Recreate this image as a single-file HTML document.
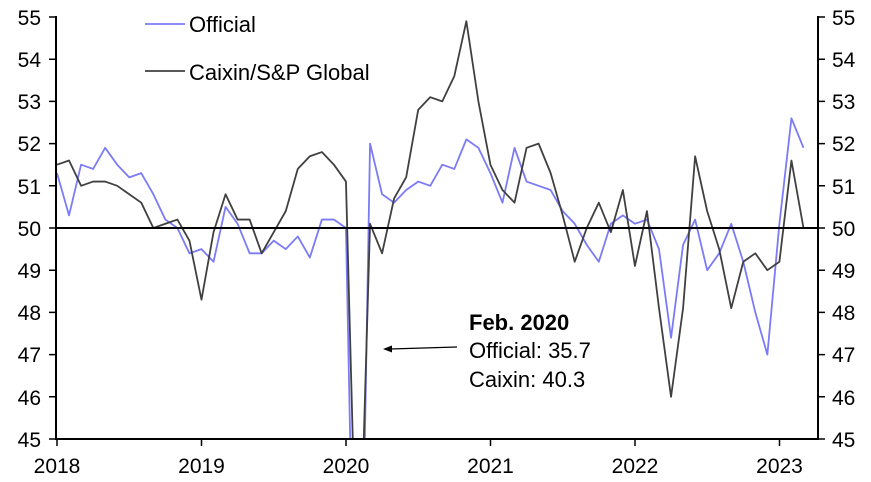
<!DOCTYPE html>
<html><head><meta charset="utf-8"><style>
html,body{margin:0;padding:0;background:#fff;overflow:hidden;width:871px;height:482px}
svg{display:block}
svg text{font-family:"Liberation Sans",Arial,sans-serif;font-size:21px;fill:#000}
</style></head><body>
<svg width="871" height="482" viewBox="0 0 871 482" xmlns="http://www.w3.org/2000/svg">
<defs><clipPath id="c"><rect x="56" y="15" width="763" height="424"/></clipPath></defs>
<g clip-path="url(#c)">
<g transform="translate(57,228) scale(12.04,-42.2)">
<polyline fill="none" stroke="#7b7bf7" stroke-width="1.8" vector-effect="non-scaling-stroke" stroke-linejoin="round" points="0,1.3 1,0.3 2,1.5 3,1.4 4,1.9 5,1.5 6,1.2 7,1.3 8,0.8 9,0.2 10,0 11,-0.6 12,-0.5 13,-0.8 14,0.5 15,0.1 16,-0.6 17,-0.6 18,-0.3 19,-0.5 20,-0.2 21,-0.7 22,0.2 23,0.2 24,0 25,-14.3 26,2 27,0.8 28,0.6 29,0.9 30,1.1 31,1 32,1.5 33,1.4 34,2.1 35,1.9 36,1.3 37,0.6 38,1.9 39,1.1 40,1 41,0.9 42,0.4 43,0.1 44,-0.4 45,-0.8 46,0.1 47,0.3 48,0.1 49,0.2 50,-0.5 51,-2.6 52,-0.4 53,0.2 54,-1 55,-0.6 56,0.1 57,-0.8 58,-2 59,-3 60,0.1 61,2.6 62,1.9"/>
<polyline fill="none" stroke="#404040" stroke-width="1.8" vector-effect="non-scaling-stroke" stroke-linejoin="round" points="0,1.5 1,1.6 2,1 3,1.1 4,1.1 5,1 6,0.8 7,0.6 8,0 9,0.1 10,0.2 11,-0.3 12,-1.7 13,-0.1 14,0.8 15,0.2 16,0.2 17,-0.6 18,-0.1 19,0.4 20,1.4 21,1.7 22,1.8 23,1.5 24,1.1 25,-9.7 26,0.1 27,-0.6 28,0.7 29,1.2 30,2.8 31,3.1 32,3 33,3.6 34,4.9 35,3 36,1.5 37,0.9 38,0.6 39,1.9 40,2 41,1.3 42,0.3 43,-0.8 44,0 45,0.6 46,-0.1 47,0.9 48,-0.9 49,0.4 50,-1.9 51,-4 52,-1.9 53,1.7 54,0.4 55,-0.5 56,-1.9 57,-0.8 58,-0.6 59,-1 60,-0.8 61,1.6 62,0"/>
</g>
</g>
<g stroke="#000" stroke-width="2" fill="none">
<line x1="56" y1="16" x2="56" y2="440"/>
<line x1="818" y1="16" x2="818" y2="440"/>
<line x1="55" y1="439" x2="819" y2="439"/>
<line x1="56" y1="228" x2="818" y2="228"/>
</g>
<g stroke="#000" stroke-width="1.5">
<path d="M49 17H56M49 59.2H56M49 101.4H56M49 143.6H56M49 185.8H56M49 228H56M49 270.2H56M49 312.4H56M49 354.6H56M49 396.8H56M49 439H56"/>
<path d="M818 17H825M818 59.2H825M818 101.4H825M818 143.6H825M818 185.8H825M818 228H825M818 270.2H825M818 312.4H825M818 354.6H825M818 396.8H825M818 439H825"/>
<path d="M57 439V446M201.5 439V446M346 439V446M490.5 439V446M635 439V446M779.5 439V446"/>
</g>
<g text-anchor="end">
<text x="41" y="25">55</text><text x="41" y="67">54</text><text x="41" y="109">53</text><text x="41" y="151">52</text><text x="41" y="194">51</text><text x="41" y="236">50</text><text x="41" y="278">49</text><text x="41" y="320">48</text><text x="41" y="362">47</text><text x="41" y="405">46</text><text x="41" y="447">45</text>
</g>
<g>
<text x="832" y="25">55</text><text x="832" y="67">54</text><text x="832" y="109">53</text><text x="832" y="151">52</text><text x="832" y="194">51</text><text x="832" y="236">50</text><text x="832" y="278">49</text><text x="832" y="320">48</text><text x="832" y="362">47</text><text x="832" y="405">46</text><text x="832" y="447">45</text>
</g>
<g text-anchor="middle">
<text x="57" y="473">2018</text><text x="201.5" y="473">2019</text><text x="346" y="473">2020</text><text x="490.5" y="473">2021</text><text x="635" y="473">2022</text><text x="779.5" y="473">2023</text>
</g>
<line x1="145" y1="24" x2="185" y2="24" stroke="#7b7bf7" stroke-width="1.8"/>
<text x="189" y="32" style="font-size:22px">Official</text>
<line x1="145" y1="71" x2="185" y2="71" stroke="#404040" stroke-width="1.8"/>
<text x="189" y="80" style="font-size:22px">Caixin/S&amp;P Global</text>
<line x1="457" y1="347" x2="390" y2="349" stroke="#000" stroke-width="1.3"/>
<path d="M383 349 L392 345.5 L392 352.5 Z" fill="#000"/>
<text x="469" y="330" style="font-weight:bold;font-size:22px">Feb. 2020</text>
<text x="469" y="358" style="font-size:22px">Official: 35.7</text>
<text x="469" y="387" style="font-size:22px">Caixin: 40.3</text>
</svg>
</body></html>
